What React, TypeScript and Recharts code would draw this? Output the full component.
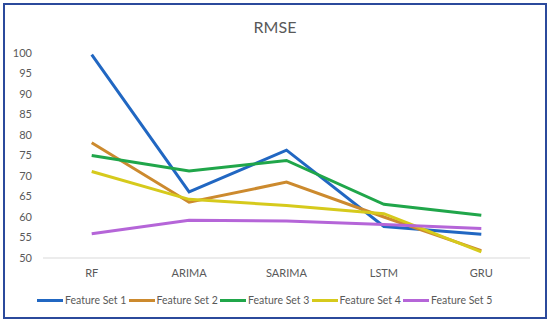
import { LineChart, Line, XAxis, YAxis } from 'recharts'

const CATEGORIES = ['RF', 'ARIMA', 'SARIMA', 'LSTM', 'GRU']
const SET1 = [99.6, 66.1, 76.3, 57.7, 55.8]
const SET2 = [78.1, 63.6, 68.5, 60.0, 51.8]
const SET3 = [75.0, 71.2, 73.8, 63.1, 60.4]
const SET4 = [71.1, 64.3, 62.8, 60.8, 51.5]
const SET5 = [55.9, 59.2, 59.0, 58.2, 57.2]
const Y_TICKS = [50, 55, 60, 65, 70, 75, 80, 85, 90, 95, 100]

const SERIES = [
  { key: 'fs1', name: 'Feature Set 1', values: SET1, color: '#2167c2' },
  { key: 'fs2', name: 'Feature Set 2', values: SET2, color: '#cc8a2e' },
  { key: 'fs3', name: 'Feature Set 3', values: SET3, color: '#20a64a' },
  { key: 'fs4', name: 'Feature Set 4', values: SET4, color: '#d6ca1c' },
  { key: 'fs5', name: 'Feature Set 5', values: SET5, color: '#b565d8' },
]

const data = CATEGORIES.map((c, i) => {
  const row: Record<string, string | number> = { name: c }
  SERIES.forEach(s => { row[s.key] = s.values[i] })
  return row
})

const FONT = 'Lato, "Open Sans", sans-serif'
const TEXT = '#595959'

function LegendBox() {
  return (
    <div style={{ position: 'absolute', left: 37, top: 292, display: 'flex', fontFamily: FONT, fontSize: 10.5, color: TEXT, whiteSpace: 'nowrap' }}>
      {SERIES.map(s => (
        <div key={s.key} style={{ display: 'flex', alignItems: 'center', width: 91.5, height: 16 }}>
          <span style={{ display: 'inline-block', width: 26, height: 3, background: s.color, marginRight: 2 }} />
          <span>{s.name}</span>
        </div>
      ))}
    </div>
  )
}

export default function App() {
  return (
    <div style={{ position: 'fixed', left: 0, top: 0, width: 550, height: 322, background: '#fff' }}>
      <div style={{ position: 'absolute', left: 3, top: 3, width: 540, height: 312, border: '2px solid #2b4a9c' }} />
      <div style={{ position: 'absolute', left: 0, top: 17, width: 550, textAlign: 'center', fontFamily: FONT, fontSize: 16, color: TEXT }}>
        RMSE
      </div>
      <LineChart width={550} height={322} data={data} margin={{ top: 53, right: 20, bottom: 34, left: 0 }}>
        <XAxis
          dataKey="name"
          padding={{ left: 48.7, right: 48.7 }}
          tickLine={false}
          axisLine={{ stroke: '#d9d9d9' }}
          tickMargin={5}
          interval={0}
          tick={{ fontSize: 11, fill: TEXT, fontFamily: FONT }}
        />
        <YAxis
          domain={[50, 100]}
          ticks={Y_TICKS}
          interval={0}
          width={43}
          tickLine={false}
          axisLine={false}
          tickMargin={5}
          tick={{ fontSize: 11, fill: TEXT, fontFamily: FONT }}
        />
        {SERIES.map(s => (
          <Line
            key={s.key}
            dataKey={s.key}
            name={s.name}
            stroke={s.color}
            strokeWidth={3}
            dot={false}
            isAnimationActive={false}
          />
        ))}
      </LineChart>
      <LegendBox />
    </div>
  )
}
